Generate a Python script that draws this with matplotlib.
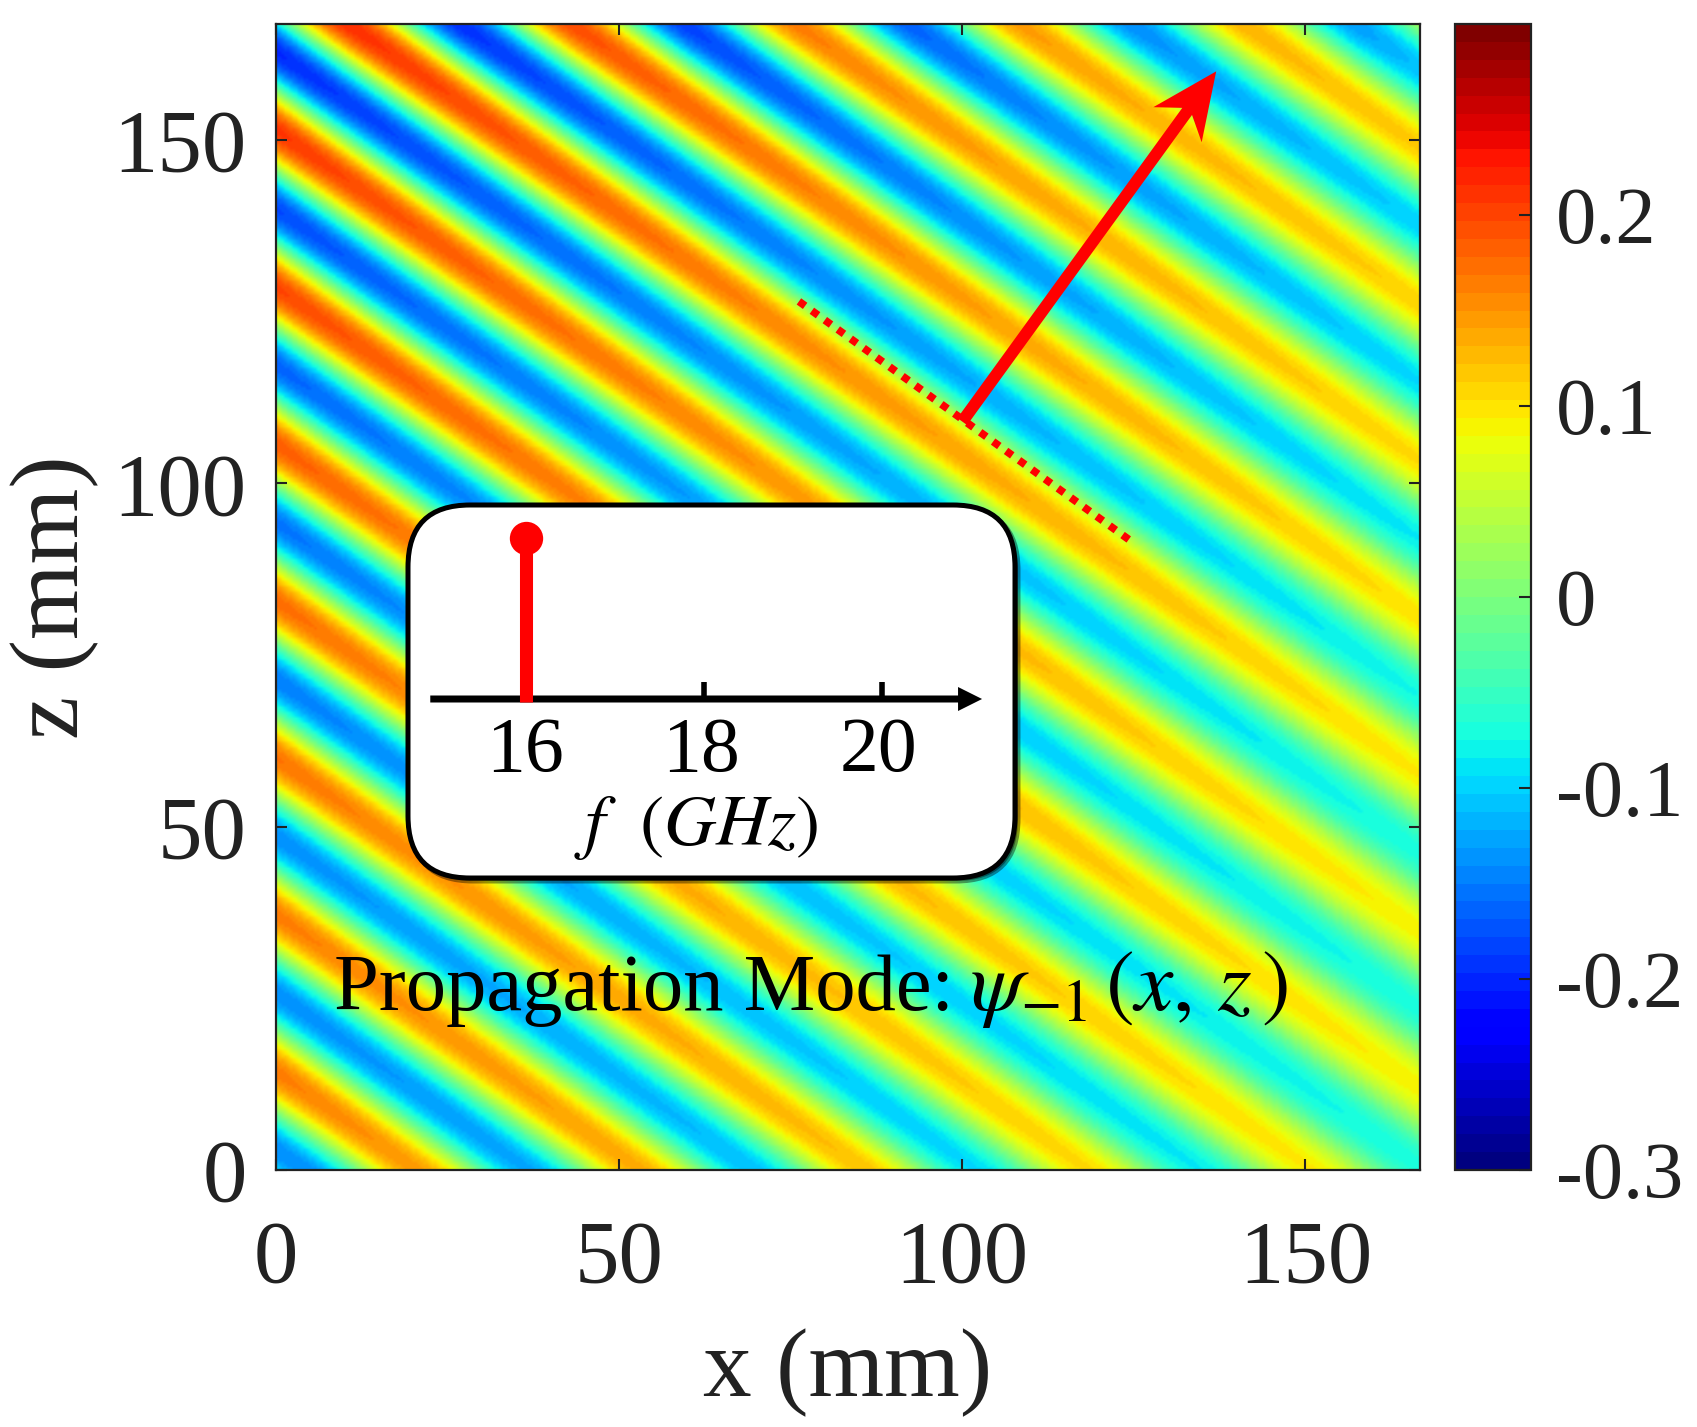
import matplotlib
matplotlib.use("Agg")
import matplotlib.pyplot as plt
import numpy as np
from matplotlib.patches import FancyBboxPatch

plt.rcParams['font.family'] = ['Liberation Serif', 'DejaVu Serif']
plt.rcParams['mathtext.fontset'] = 'stix'
DARK = '#222222'

# stripes: position of each crest/trough on the left edge (z at x=0, mm)
stripe_slope = 0.70
crest_pos = [-8.8, 2.65, 14.1, 25.55, 37.0, 48.45, 59.9, 71.35, 82.8, 94.25, 105.7, 117.15,
             128.6, 140.05, 151.5, 162.95, 174.4, 185.85, 197.3, 208.75, 220.2, 231.65,
             243.1, 254.55, 266.0, 277.45, 288.9, 300.35]
# value of each stripe where it enters the picture (left or top edge)
crest_start = [0.16, -0.14, 0.165, -0.14, 0.165, -0.14, 0.17, -0.15, 0.175, -0.155, 0.185, -0.165,
               0.20, -0.18, 0.21, -0.20, 0.215, -0.195, 0.195, -0.185, 0.165, -0.165,
               0.145, -0.14, 0.13, -0.13, 0.125, -0.12]
# value of each stripe where it leaves the picture (bottom or right edge)
crest_end = [0.16, -0.14, 0.145, -0.125, 0.135, -0.11, 0.12, -0.095, 0.105, -0.085, 0.095, -0.07,
             0.09, -0.07, 0.09, -0.07, 0.095, -0.075, 0.10, -0.085, 0.105, -0.095,
             0.11, -0.10, 0.115, -0.11, 0.12, -0.115]

x_ticks = [0, 50, 100, 150]
z_ticks = [0, 50, 100, 150]
cbar_ticks = [-0.3, -0.2, -0.1, 0, 0.1, 0.2]
cbar_labels = ['-0.3', '-0.2', '-0.1', '0', '0.1', '0.2']
x_max = 166.7
z_max = 166.9

mode_freq = 16
mode_amp = 1.61
freq_ticks = [16, 18, 20]

# build the field from the stripe table
pos = np.array(crest_pos)
v0 = np.array(crest_start)
v1 = np.array(crest_end)
xs = np.linspace(0, x_max, 420)
zs = np.linspace(0, z_max, 420)
X, Z = np.meshgrid(xs, zs)
S = Z + stripe_slope * X
x_in = np.clip((pos - z_max) / stripe_slope, 0, x_max)
x_out = np.clip(pos / stripe_slope, 0, x_max)
i = np.clip(np.searchsorted(pos, S) - 1, 0, len(pos) - 2)
def crest_value(k):
    t = np.clip((X - x_in[k]) / np.maximum(x_out[k] - x_in[k], 1), 0, 1) ** 0.8
    return v0[k] + (v1[k] - v0[k]) * t
w = (S - pos[i]) / (pos[i + 1] - pos[i])
w = (1 - np.cos(np.pi * w)) / 2
field = crest_value(i) * (1 - w) + crest_value(i + 1) * w

W, H = 1697, 1427
fig = plt.figure(figsize=(W / 100, H / 100), dpi=100, facecolor='white')
def px_axes(x0, y0, x1, y1, **kw):
    return fig.add_axes([x0 / W, 1 - y1 / H, (x1 - x0) / W, (y1 - y0) / H], **kw)

ax = px_axes(276, 24, 1426 - 6, 1175 - 5)
im = ax.imshow(field, origin='lower', extent=[0, x_max, 0, z_max], aspect='auto',
               cmap=plt.get_cmap('jet', 64), vmin=-0.3, vmax=0.3, interpolation='bilinear')
ax.set_xticks(x_ticks)
ax.set_yticks(z_ticks)
ax.tick_params(direction='in', length=8, width=1.5, top=True, right=True, color=DARK,
               labelsize=64, labelcolor=DARK)
ax.tick_params(axis='x', pad=36)
ax.tick_params(axis='y', pad=21)
for s in ax.spines.values():
    s.set_linewidth(1.6)
    s.set_color(DARK)
ax.set_xlabel('x (mm)', fontsize=70, color=DARK, labelpad=20)
ax.set_ylabel('z (mm)', fontsize=70, color=DARK, labelpad=10)

# propagation arrow and wavefront
ax.arrow(100, 109, 37, 51, width=1.75, head_width=8.7, head_length=9.6, overhang=0.25,
         length_includes_head=True, color='red', lw=0, zorder=4)
ax.plot([76.2, 124.3], [126.5, 91.8], color='red', lw=5.5, linestyle=(0, (1, 1.09)), zorder=3)

ax.text(8.5, 23.3, 'Propagation Mode:', fontsize=58, color='black', va='baseline', zorder=5)
ax.text(101.2, 23.3, r'$\psi_{-1}\,(x,\,z\,)$', fontsize=62, color='black', va='baseline', zorder=5)

cax = px_axes(1455, 24, 1531, 1170)
cb = fig.colorbar(im, cax=cax, ticks=cbar_ticks)
cb.ax.set_yticklabels(cbar_labels)
cb.ax.tick_params(direction='in', length=9, width=1.5, color=DARK, labelsize=58,
                  labelcolor=DARK, pad=18)
cb.outline.set_linewidth(1.6)
cb.outline.set_edgecolor(DARK)

# rounded box holding the small spectrum
ov = fig.add_axes([0, 0, 1, 1], zorder=3)
ov.set_xlim(0, W)
ov.set_ylim(H, 0)
ov.axis('off')
bx0, by0, bx1, by1, r = 408, 505, 1015, 878, 62
for dx, fc, ec, a in [(3, 'black', 'black', 0.4), (0, 'white', 'black', 1)]:
    ov.add_patch(FancyBboxPatch((bx0 + r + dx, by0 + r + dx), bx1 - bx0 - 2 * r, by1 - by0 - 2 * r,
                                boxstyle=f'round,pad={r},rounding_size={r}',
                                fc=fc, ec=ec, lw=3.6, alpha=a))

ax_y = 699
ins = px_axes(bx0, by0, bx1, by1, zorder=4)
ins.patch.set_alpha(0)
ins.axis('off')
ins.set_xlim(16 + (bx0 - 525.5) / 89, 16 + (bx1 - 525.5) / 89)
ins.set_ylim(-(by1 - ax_y) / 100, (ax_y - by0) / 100)
ins.plot([mode_freq, mode_freq], [-0.03, mode_amp], color='red', lw=9.4, solid_capstyle='butt', zorder=3)
ins.plot([mode_freq], [mode_amp], 'o', color='red', ms=24, mew=0, zorder=3)
ins.arrow(14.93, 0, 6.2, 0, width=0.07, head_width=0.24, head_length=0.27, color='black', lw=0,
          length_includes_head=True)
ins.vlines(freq_ticks[1:], 0, 0.17, color='black', lw=4)
for f in freq_ticks:
    ins.text(f - (0.03 if f > 16 else 0), -0.53, str(f), fontsize=56, ha='center', va='center', color='black')
ins.text(17.92, -1.29, r'$f\ \ (GHz)$', fontsize=52, ha='center', va='center', color='black')

fig.savefig('out.png', dpi=100)
